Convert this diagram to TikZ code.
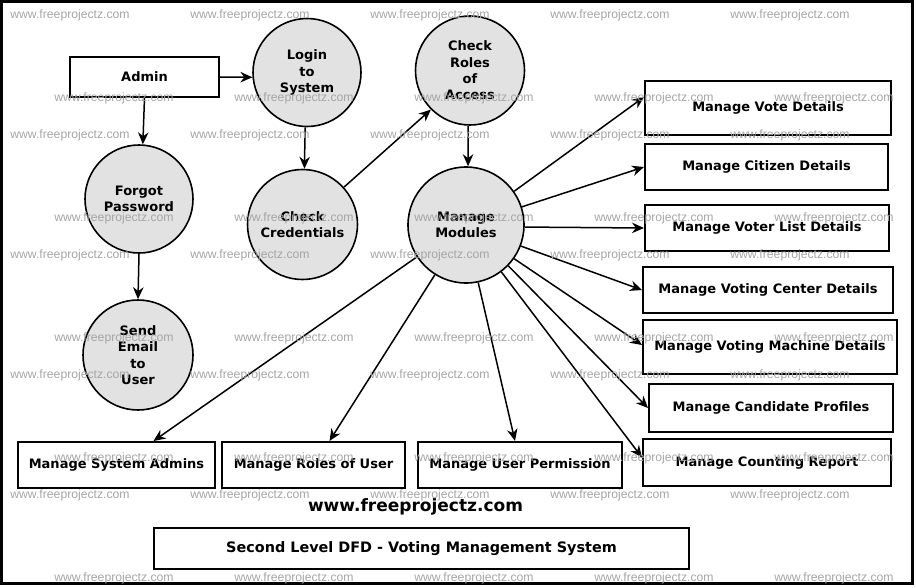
\documentclass[tikz,border=0pt]{standalone}
\usepackage{fontspec}
\setmainfont{DejaVu Sans}
\newfontfamily\markfont{Liberation Sans}
\usetikzlibrary{arrows.meta}
\definecolor{bubblegray}{RGB}{226,226,226}
\definecolor{markgray}{RGB}{165,165,165}
\tikzset{
  every node/.style = {font=\bfseries\fontsize{13}{16.3}\selectfont, align=center},
  process/.style = {circle, draw, line width=1.6pt, fill=bubblegray, inner sep=0pt, minimum size=#1},
  process/.default = {108pt},
  entity/.style 2 args = {draw, line width=2pt, minimum width=#1, minimum height=#2, inner sep=0pt},
  flow/.style = {->, >={Stealth[length=12pt,width=10.5pt]}, line width=1.5pt},
  watermark/.style = {font=\markfont\fontsize{12.2}{13}\selectfont, text=markgray}
}

\begin{document}
\begin{tikzpicture}[x=1pt, y=-1pt]

  \useasboundingbox (0,0) rectangle (916,587);
  \draw[line width=3pt] (1.5,1.5) rectangle (912,583);

  % processes
  \node[process] (login) at (307,72.5) {Login\\to\\System};
  \node[process=109pt] (checkroles) at (470,70.5) {Check\\Roles\\of\\Access};
  \node[process] (forgot) at (139,199) {Forgot\\Password};
  \node[process=110pt] (checkcred) at (302.5,224.5) {Check\\Credentials};
  \node[process=116pt] (modules) at (466,225) {Manage\\Modules};
  \node[process=110pt] (sendmail) at (138,355) {Send\\Email\\to\\User};

  % entities
  \node[entity={149pt}{40pt}] (admin) at (144.5,77) {Admin};
  \node[entity={246pt}{54pt}] (vote) at (768,108) {Manage Vote Details};
  \node[entity={243pt}{46pt}] (citizen) at (766.5,167) {Manage Citizen Details};
  \node[entity={244pt}{46pt}] (voterlist) at (767,228) {Manage Voter List Details};
  \node[entity={250pt}{46pt}] (votecenter) at (768,290) {Manage Voting Center Details};
  \node[entity={254pt}{54pt}] (machine) at (770,347) {Manage Voting Machine Details};
  \node[entity={244pt}{48pt}] (candidate) at (771,408) {Manage Candidate Profiles};
  \node[entity={248pt}{47pt}] (counting) at (767,462.5) {Manage Counting Report};
  \node[entity={197pt}{46pt}] (sysadmins) at (116.5,465) {Manage System Admins};
  \node[entity={183pt}{46pt}] (userroles) at (313.5,465) {Manage Roles of User};
  \node[entity={204pt}{46pt}] (permission) at (520,465) {Manage User Permission};

  \node[font=\bfseries\fontsize{17}{19}\selectfont] (site) at (415.5,507) {www.freeprojectz.com};
  \node[entity={535pt}{41pt}, font=\bfseries\fontsize{14.4}{17}\selectfont] (title) at (421.5,548.5) {Second Level DFD - Voting Management System};

  % flows
  \draw[flow] (admin.east) -- (login.185);
  \draw[flow] (admin.south) -- (forgot.86);
  \draw[flow] (forgot.south) -- (sendmail.north);
  \draw[flow] (login.268) -- (checkcred.88);
  \draw[flow] (checkcred.42) -- (checkroles.225);
  \draw[flow] (checkroles.268) -- (modules.88);

  \draw[flow] (modules.35) -- ([yshift=11pt]vote.west);
  \draw[flow] (modules.18) -- (citizen.west);
  \draw[flow] (modules.-2) -- (voterlist.west);
  \draw[flow] (modules.-21) -- (votecenter.west);
  \draw[flow] (modules.-35) -- ([yshift=2pt]machine.west);
  \draw[flow] (modules.-44) -- (candidate.west);
  \draw[flow] (modules.-53) -- ([yshift=5pt]counting.west);
  \draw[flow] (modules.-78) -- ([xshift=-5pt]permission.north);
  \draw[flow] (modules.-122) -- ([xshift=16pt]userroles.north);
  \draw[flow] (modules.-147) -- ([xshift=37pt]sysadmins.north);

  % watermark grid
  \foreach \row in {15,135,255,375,495}
    \foreach \col in {70,250,430,610,790}
      \node[watermark] (wa-\col-\row) at (\col,\row) {www.freeprojectz.com};
  \foreach \row in {98,218,338,458,578}
    \foreach \col in {114,294,474,654,834}
      \node[watermark] (wb-\col-\row) at (\col,\row) {www.freeprojectz.com};

\end{tikzpicture}
\end{document}
